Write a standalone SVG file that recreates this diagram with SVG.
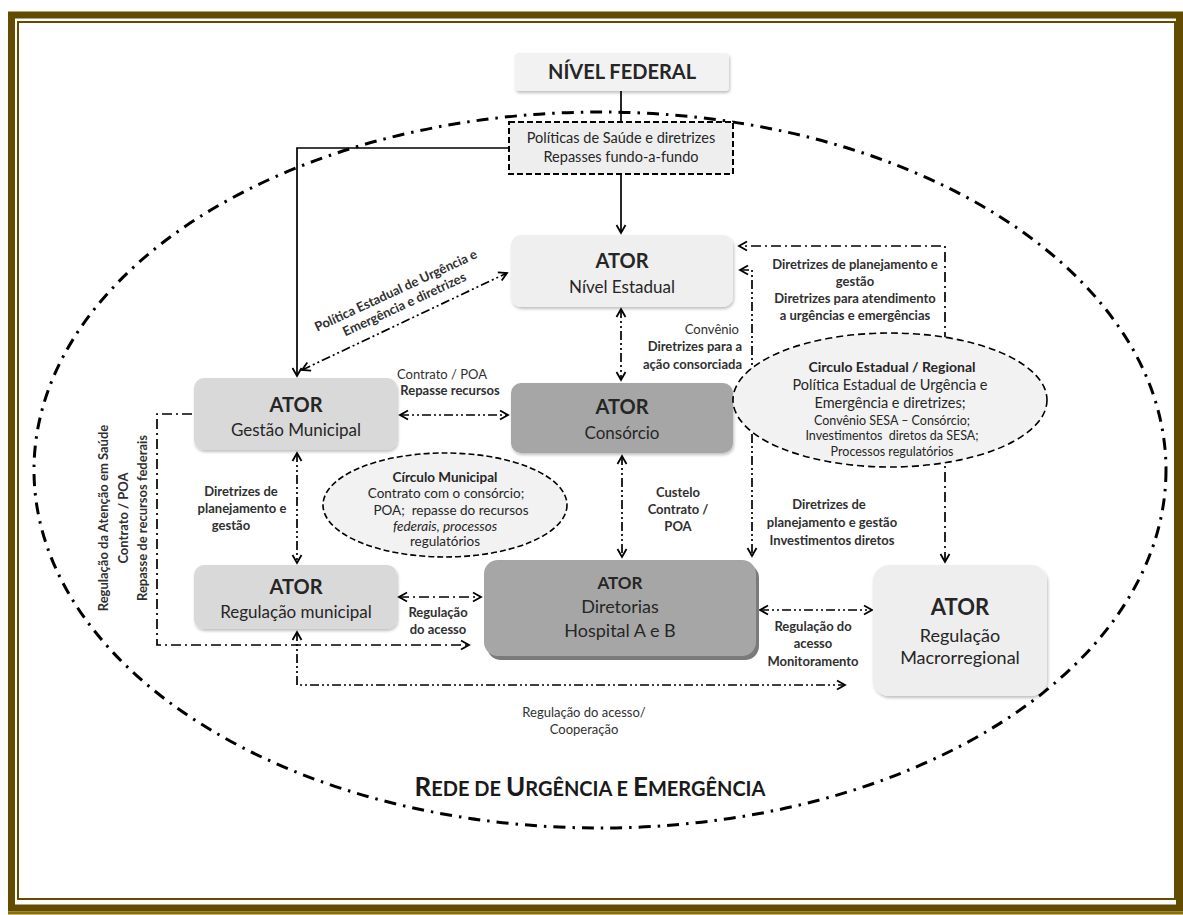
<svg xmlns="http://www.w3.org/2000/svg" width="1183" height="915" viewBox="0 0 1183 915">
<style>
.lbl{font-family:Lato,"Liberation Sans",sans-serif;font-weight:bold;font-size:13px;fill:#303030;text-anchor:middle}
.reg{font-weight:normal}
.ator{font-family:Lato,"Liberation Sans",sans-serif;font-weight:bold;fill:#262626;text-anchor:middle}
.sub{font-family:Lato,"Liberation Sans",sans-serif;fill:#262626;text-anchor:middle}
.circ{font-family:Lato,"Liberation Sans",sans-serif;fill:#262626;text-anchor:middle}
.con{fill:none;stroke:#000;stroke-width:1.7}
.dd{stroke-dasharray:9 3 2 3 2 3}
.d1{stroke-dasharray:10 4 2 4}
</style>
<defs>
<marker id="ah" markerUnits="userSpaceOnUse" markerWidth="12" markerHeight="12" refX="10" refY="6" orient="auto-start-reverse">
<path d="M2,1.5 L10,6 L2,10.5" fill="none" stroke="#000" stroke-width="1.8"/>
</marker>
<filter id="sh" x="-10%" y="-10%" width="125%" height="130%">
<feDropShadow dx="1" dy="2" stdDeviation="1.5" flood-color="#000" flood-opacity="0.25"/>
</filter>
</defs>
<rect width="1183" height="915" fill="#fff"/>
<g id="frame">
<rect x="11.5" y="15" width="1168" height="893" fill="none" stroke="#634b00" stroke-width="7"/>
<rect x="18" y="22" width="1157" height="877" fill="none" stroke="#634b00" stroke-width="2"/>
<line x1="8" y1="913" x2="1183" y2="913" stroke="#8a7000" stroke-width="3"/>
</g>
<g id="rede">
<ellipse cx="600" cy="470" rx="566" ry="358" fill="none" stroke="#000" stroke-width="3" stroke-dasharray="12 7 2.5 7"/>
<text x="590" y="796" font-family="Lato,'Liberation Sans',sans-serif" font-weight="bold" fill="#1a1a1a" text-anchor="middle" font-size="20"><tspan font-size="26">R</tspan>EDE DE <tspan font-size="26">U</tspan>RGÊNCIA E <tspan font-size="26">E</tspan>MERGÊNCIA</text>
</g>
<g id="connectors">
<line class="con" x1="621" y1="91" x2="621" y2="122"/>
<line class="con" x1="621" y1="174" x2="621" y2="233" marker-end="url(#ah)"/>
<path class="con" d="M509,148 H297 V376" marker-end="url(#ah)"/>
<line class="con dd" x1="302" y1="370" x2="507" y2="273" marker-start="url(#ah)" marker-end="url(#ah)"/>
<line class="con dd" x1="400" y1="415" x2="508" y2="415" marker-start="url(#ah)" marker-end="url(#ah)"/>
<line class="con dd" x1="621" y1="309" x2="621" y2="380" marker-start="url(#ah)" marker-end="url(#ah)"/>
<path class="con d1" d="M945,562 V246 H739" marker-start="url(#ah)" marker-end="url(#ah)"/>
<path class="con dd" d="M740,270 H752 V556" marker-start="url(#ah)" marker-end="url(#ah)"/>
<line class="con dd" x1="622" y1="456" x2="622" y2="557" marker-start="url(#ah)" marker-end="url(#ah)"/>
<line class="con dd" x1="297" y1="453" x2="297" y2="563" marker-start="url(#ah)" marker-end="url(#ah)"/>
<path class="con d1" d="M192,414 H157 V645 H469" marker-end="url(#ah)"/>
<line class="con d1" x1="399" y1="597" x2="481" y2="597" marker-start="url(#ah)" marker-end="url(#ah)"/>
<line class="con dd" x1="760" y1="610" x2="872" y2="610" marker-start="url(#ah)" marker-end="url(#ah)"/>
<path class="con dd" d="M297,632 V685 H845" marker-start="url(#ah)" marker-end="url(#ah)"/>
<g id="labels">
<g transform="translate(396 291) rotate(-24.8)">
<text class="lbl" x="0" y="4" font-size="13">Política Estadual de Urgência e</text>
<text class="lbl" x="2" y="20" font-size="13">Emergência e diretrizes</text>
</g>
<text class="lbl reg" x="442" y="379" font-size="12.5">Contrato / POA</text>
<text class="lbl" x="450" y="395" font-size="12.5">Repasse recursos</text>
<text class="lbl reg" x="739" y="334" font-size="13.5" style="text-anchor:end">Convênio</text>
<text class="lbl" x="742" y="351" font-size="13.5" style="text-anchor:end">Diretrizes para a</text>
<text class="lbl" x="742" y="369" font-size="13.5" style="text-anchor:end">ação consorciada</text>
<text class="lbl" x="855" y="269" font-size="13.5">Diretrizes de planejamento e</text>
<text class="lbl" x="855" y="286" font-size="13.5">gestão</text>
<text class="lbl" x="855" y="303" font-size="13.5">Diretrizes para atendimento</text>
<text class="lbl" x="855" y="320" font-size="13.5">a urgências e emergências</text>
<text class="lbl" x="678" y="497" font-size="13.5">Custelo</text>
<text class="lbl" x="678" y="514" font-size="13.5">Contrato /</text>
<text class="lbl" x="678" y="531" font-size="13.5">POA</text>
<text class="lbl" x="829" y="509" font-size="14">Diretrizes de</text>
<text class="lbl" x="832" y="527" font-size="14">planejamento e gestão</text>
<text class="lbl" x="832" y="545" font-size="14">Investimentos diretos</text>
<text class="lbl" x="241" y="496">Diretrizes de</text>
<text class="lbl" x="242" y="513">planejamento e</text>
<text class="lbl" x="231" y="530">gestão</text>
<text class="lbl" x="438" y="617" font-size="13.5">Regulação</text>
<text class="lbl" x="438" y="634" font-size="13.5">do acesso</text>
<text class="lbl" x="813" y="631" font-size="13.5">Regulação do</text>
<text class="lbl" x="813" y="648" font-size="13.5">acesso</text>
<text class="lbl" x="813" y="666" font-size="13.5">Monitoramento</text>
<text class="lbl reg" x="584" y="717" font-size="12.5">Regulação do acesso/</text>
<text class="lbl reg" x="584" y="734" font-size="12.5">Cooperação</text>
<g transform="rotate(-90 103 518)"><text class="lbl" x="103" y="523" font-size="14.5">Regulação da Atenção em Saúde</text></g>
<g transform="rotate(-90 123 518)"><text class="lbl" x="123" y="523" font-size="14">Contrato / POA</text></g>
<g transform="rotate(-90 142 518)"><text class="lbl" x="142" y="523" font-size="14.5">Repasse de recursos federais</text></g>
</g>
</g>
<g id="federal">
<rect x="515" y="53" width="214" height="38" rx="4" fill="#f2f2f2" filter="url(#sh)"/>
<text class="ator" x="622" y="79" font-size="20">NÍVEL FEDERAL</text>
</g>
<g id="politicas">
<rect x="509" y="122" width="224" height="52" fill="#eeeeee" stroke="#000" stroke-width="2" stroke-dasharray="6 3"/>
<text class="sub" x="621" y="143" font-size="14.5">Políticas de Saúde e diretrizes</text>
<text class="sub" x="621" y="162" font-size="14.5">Repasses fundo-a-fundo</text>
</g>
<g id="estadual">
<rect x="511" y="235" width="222" height="72" rx="10" fill="#efefef" filter="url(#sh)"/>
<text class="ator" x="622" y="268" font-size="20">ATOR</text>
<text class="sub" x="622" y="293" font-size="17">Nível Estadual</text>
</g>
<g id="gestao">
<rect x="194" y="378" width="203" height="72" rx="10" fill="#d9d9d9" filter="url(#sh)"/>
<text class="ator" x="296" y="412" font-size="20">ATOR</text>
<text class="sub" x="296" y="436" font-size="17">Gestão Municipal</text>
</g>
<g id="consorcio">
<rect x="511" y="383" width="222" height="70" rx="10" fill="#a6a6a6" filter="url(#sh)"/>
<text class="ator" x="622" y="414" font-size="20">ATOR</text>
<text class="sub" x="622" y="439" font-size="17">Consórcio</text>
</g>
<g id="regmun">
<rect x="194" y="565" width="203" height="64" rx="10" fill="#d9d9d9" filter="url(#sh)"/>
<text class="ator" x="296" y="594" font-size="20">ATOR</text>
<text class="sub" x="296" y="618" font-size="17">Regulação municipal</text>
</g>
<g id="hospital">
<rect x="487" y="564" width="272" height="96" rx="14" fill="#7a7a7a"/>
<rect x="484" y="560" width="272" height="96" rx="14" fill="#a6a6a6"/>
<text class="ator" x="620" y="589" font-size="17">ATOR</text>
<text class="sub" x="620" y="613" font-size="18">Diretorias</text>
<text class="sub" x="620" y="637" font-size="18">Hospital A e B</text>
</g>
<g id="macro">
<rect x="873" y="565" width="174" height="131" rx="16" fill="#eeeeee" filter="url(#sh)"/>
<text class="ator" x="960" y="615" font-size="22">ATOR</text>
<text class="sub" x="960" y="642" font-size="18">Regulação</text>
<text class="sub" x="960" y="664" font-size="18">Macrorregional</text>
</g>
<g id="circulo-municipal">
<ellipse cx="445" cy="505" rx="122" ry="52" fill="#f2f2f2" stroke="#000" stroke-width="1.6" stroke-dasharray="6 3"/>
<text class="circ" x="445" y="482" font-size="13.5" font-weight="bold">Círculo Municipal</text>
<text class="circ" x="446" y="498" font-size="13.5">Contrato com o consórcio;</text>
<text class="circ" x="451" y="515" font-size="13.5" xml:space="preserve">POA;  repasse do recursos</text>
<text class="circ" x="445" y="531" font-size="13.5"><tspan font-style="italic">federais, processos</tspan></text>
<text class="circ" x="445" y="546" font-size="13.5">regulatórios</text>
</g>
<g id="circulo-estadual">
<ellipse cx="890" cy="400" rx="157" ry="67" fill="#f2f2f2" stroke="#000" stroke-width="1.6" stroke-dasharray="7 4"/>
<text class="circ" x="892" y="372" font-size="14" font-weight="bold">Circulo Estadual / Regional</text>
<text class="circ" x="890" y="390" font-size="14.5">Política Estadual de Urgência e</text>
<text class="circ" x="890" y="408" font-size="14.5">Emergência e diretrizes;</text>
<text class="circ" x="892" y="425" font-size="12.5">Convênio SESA – Consórcio;</text>
<text class="circ" x="892" y="440" font-size="12.5" xml:space="preserve">Investimentos  diretos da SESA;</text>
<text class="circ" x="892" y="456" font-size="12.5">Processos regulatórios</text>
</g>
</svg>
